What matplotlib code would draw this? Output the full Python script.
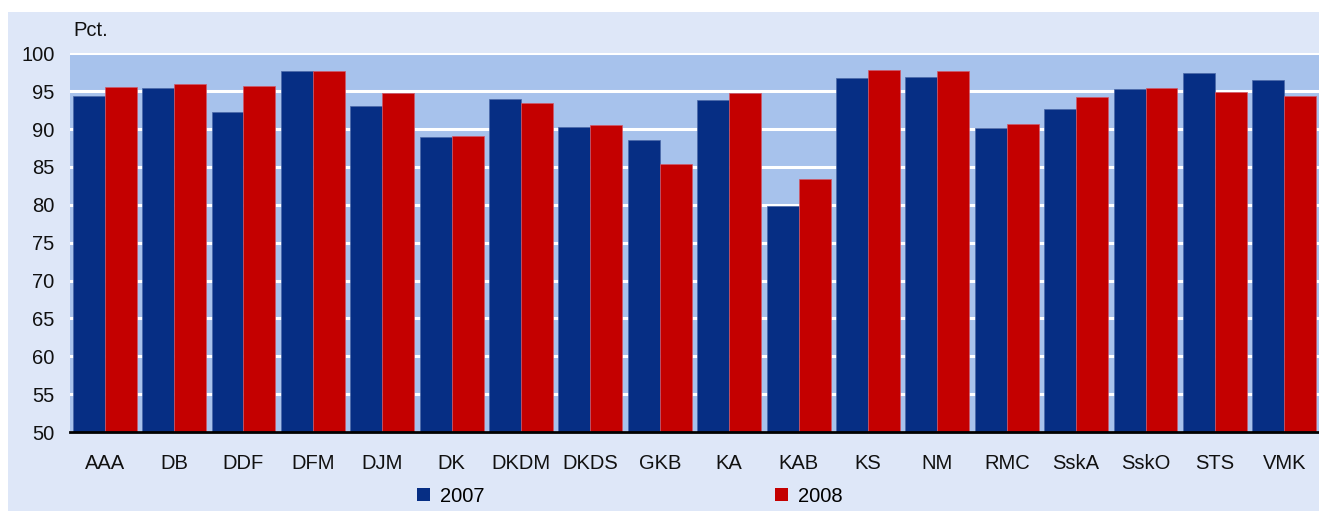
import matplotlib.pyplot as plt
import numpy as np
from matplotlib.patches import Rectangle, Patch

# data
companies = ['AAA', 'DB', 'DDF', 'DFM', 'DJM', 'DK', 'DKDM', 'DKDS', 'GKB', 'KA',
             'KAB', 'KS', 'NM', 'RMC', 'SskA', 'SskO', 'STS', 'VMK']
pct_2007 = [94.3, 95.4, 92.2, 97.7, 93.0, 89.0, 94.0, 90.3, 88.6, 93.8,
            79.8, 96.7, 96.9, 90.2, 92.6, 95.3, 97.4, 96.5]
pct_2008 = [95.6, 95.9, 95.7, 97.7, 94.8, 89.1, 93.5, 90.5, 85.4, 94.8,
            83.4, 97.8, 97.7, 90.6, 94.2, 95.4, 94.9, 94.4]
years = ['2007', '2008']

blue = '#062e84'
red = '#c40000'
plot_bg = '#a7c2ec'
outer_bg = '#dee7f8'

plt.rcParams['font.family'] = ['Liberation Sans', 'DejaVu Sans']

fig = plt.figure(figsize=(13.19, 5.11), dpi=100)
fig.patches.append(Rectangle((8 / 1319, 0), 1 - 8 / 1319, 1 - 12 / 511,
                             transform=fig.transFigure, facecolor=outer_bg,
                             edgecolor='none', zorder=-10))

ax = fig.add_axes([70 / 1319, 79 / 511, 1249 / 1319, 378.7 / 511])
ax.set_facecolor(plot_bg)

x = np.arange(len(companies))
w = 0.46
ax.bar(x - w / 2, pct_2007, w, color=blue, edgecolor='#4a68a8', linewidth=0.5, zorder=3)
ax.bar(x + w / 2, pct_2008, w, color=red, edgecolor='#d05a6a', linewidth=0.5, zorder=3)

ax.set_ylim(50, 100)
ax.set_xlim(-0.5, len(companies) - 0.5)
ax.set_yticks(np.arange(50, 101, 5))
ax.yaxis.grid(True, color='white', linewidth=2.2, zorder=1)
ax.set_axisbelow(True)
ax.set_xticks(x)
ax.set_xticklabels(companies)
ax.tick_params(axis='both', length=0, labelsize=14.5, colors='#111111')
ax.tick_params(axis='y', pad=11)
ax.tick_params(axis='x', pad=16)

for side in ['top', 'right', 'left']:
    ax.spines[side].set_visible(False)
ax.spines['bottom'].set_color('black')
ax.spines['bottom'].set_linewidth(2)
ax.spines['bottom'].set_zorder(5)

fig.text(73 / 1319, 1 - 30 / 511, 'Pct.', fontsize=14.5, va='center', ha='left', color='#111111')

handles = [Patch(facecolor=blue, edgecolor='none'), Patch(facecolor=red, edgecolor='none')]
fig.legend(handles, years, loc='center', bbox_to_anchor=(630 / 1319, 15 / 511),
           ncol=2, frameon=False, fontsize=14.5, handlelength=0.65, handleheight=0.65,
           handletextpad=0.5, columnspacing=14.4)

fig.savefig('out.png', dpi=100)
